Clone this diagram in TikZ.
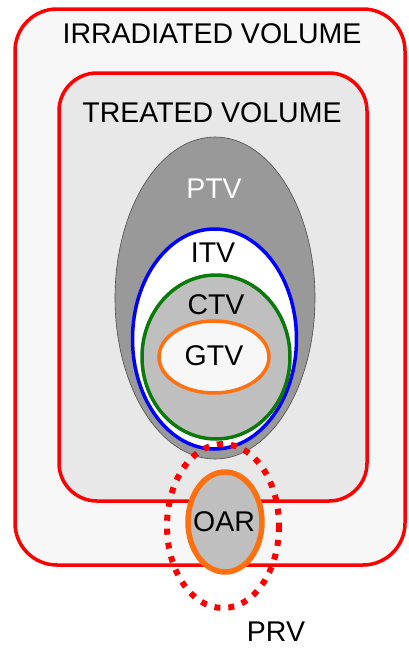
\documentclass[tikz,border=0pt]{standalone}
\usepackage{fontspec}
\setmainfont{Liberation Sans}
\tikzset{
  x=1pt, y=-1pt,
  volbox/.style={draw=red, line width=3.5pt, rounded corners=42pt},
  lbl/.style={font=\fontsize{28.5}{31}\selectfont, inner sep=0pt},
  vol/.style={line width=3.5pt},
}
\definecolor{outerfill}{HTML}{F7F7F7}
\definecolor{innerfill}{HTML}{E8E8E8}
\definecolor{ptvfill}{HTML}{999999}
\definecolor{ctvfill}{HTML}{BFBFBF}
\definecolor{oarorange}{HTML}{FF7010}
\definecolor{ctvgreen}{HTML}{0A7A0A}
\begin{document}
\begin{tikzpicture}
  \useasboundingbox (0,0) rectangle (408,648);
  \fill[white] (0,0) rectangle (408,648);
  % irradiated and treated volumes
  \draw[volbox, fill=outerfill] (15,9) rectangle (405,565);
  \draw[volbox, fill=innerfill, rounded corners=38pt] (59,73) rectangle (367,501);
  \node[lbl] (irr) at (212,34) {IRRADIATED VOLUME};
  \node[lbl] (trt) at (212,113) {TREATED VOLUME};
  % nested target volumes
  \draw[fill=ptvfill, draw=black!70, line width=0.6pt] (215,298) ellipse [x radius=100, y radius=161];
  \draw[vol, draw=blue, fill=white] (214.5,339) ellipse [x radius=82, y radius=110];
  \draw[vol, draw=ctvgreen, fill=ctvfill] (216,357) ellipse [x radius=74, y radius=82];
  \draw[vol, draw=oarorange, fill=outerfill] (214,357) ellipse [x radius=55, y radius=36];
  \node[lbl, text=white] (ptv) at (214,189) {PTV};
  \node[lbl] (itv) at (213,253) {ITV};
  \node[lbl] (ctv) at (216,305) {CTV};
  \node[lbl] (gtv) at (214,356) {GTV};
  % organ at risk and its planning margin
  \draw[line width=5.5pt, draw=oarorange, fill=ctvfill] (225,522) ellipse [x radius=37, y radius=50];
  \draw[line width=6pt, draw=red, dash pattern=on 6pt off 8pt] (223,526) ellipse [x radius=56, y radius=82];
  \node[lbl] (oar) at (224,522) {OAR};
  \node[lbl] (prv) at (276,632) {PRV};
\end{tikzpicture}
\end{document}
